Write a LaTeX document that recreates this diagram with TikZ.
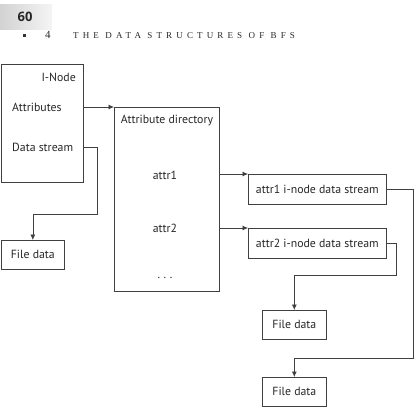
\documentclass[tikz,border=0pt]{standalone}
\usepackage{fontspec}
\setmainfont{Liberation Serif}
\newfontfamily\boxfont{PT Sans}
\newfontfamily\headsans{Open Sans}
\usetikzlibrary{arrows.meta}
\definecolor{linec}{gray}{0.25}
\definecolor{txt}{gray}{0.15}
\begin{document}
\begin{tikzpicture}[x=1pt,y=-1pt,
  box/.style={draw=linec, line width=0.7pt, rectangle, inner sep=0pt, text=txt,
    font=\boxfont\fontsize{11.8}{13}\selectfont},
  lbl/.style={inner sep=0pt, text=txt, font=\boxfont\fontsize{11.8}{13}\selectfont},
  arr/.style={draw=linec, line width=0.7pt, -{Latex[length=5.5pt,width=5pt]}}]
\useasboundingbox (0,0) rectangle (417,407);
% header
\node[anchor=north west, minimum width=52pt, minimum height=25pt, inner sep=0pt,
  left color=gray!35, right color=gray!8, draw=none] (pg) at (0,4) {};
\node[inner sep=0pt, font=\headsans\bfseries\fontsize{13}{14}\selectfont, text=black!85] (pgnum) at (25,17) {60};
\node[fill=black!80, minimum size=3pt, inner sep=0pt] (sq) at (24.5,35) {};
\node[anchor=base west, inner sep=0pt, font=\fontsize{11}{12}\selectfont, text=txt] (chap) at (45,38) {4};
\node[anchor=base west, inner sep=0pt, text=txt] (title) at (73,38)
  {\addfontfeatures{LetterSpace=46}\fontsize{9}{10}\selectfont THE DATA STRUCTURES OF BFS};
% I-node
\node[box, minimum width=82pt, minimum height=118pt, anchor=north west] (inode) at (1,64) {};
\node[lbl, anchor=east] (inlbl) at (76,77) {I-Node};
\node[lbl, anchor=west] (attrs) at (12,107) {Attributes};
\node[lbl, anchor=west] (ds) at (12,147) {Data stream};
% directory
\node[box, minimum width=105pt, minimum height=184pt, anchor=north west] (dir) at (114,107) {};
\node[lbl] (dirlbl) at (167,121) {Attribute directory};
\node[lbl] (at1) at (165,175) {attr1};
\node[lbl] (at2) at (165,228) {attr2};
\node[lbl] (dots) at (165,278) {.\hspace{3.5pt}.\hspace{3.5pt}.};
% streams
\node[box, minimum width=138pt, minimum height=30pt, anchor=north west] (a1box) at (248,174) {attr1 i-node data stream};
\node[box, minimum width=138pt, minimum height=30pt, anchor=north west] (a2box) at (248,228) {attr2 i-node data stream};
% file data
\node[box, minimum width=63pt, minimum height=29pt, anchor=north west] (fd1) at (1,240) {File data};
\node[box, minimum width=64pt, minimum height=29pt, anchor=north west] (fd2) at (262,310) {File data};
\node[box, minimum width=64pt, minimum height=29pt, anchor=north west] (fd3) at (262,377) {File data};
% bends
\coordinate (b1) at (97,214);
\coordinate (b2) at (396,275);
\coordinate (b3) at (413,358);
% connectors
\draw[arr] (inode.east |- dir.north) -- (dir.north west);
\draw[arr] (inode.east |- ds) -| (b1) -| (fd1.north);
\draw[arr] (dir.east |- a1box.north) -- (a1box.north west);
\draw[arr] (dir.east |- a2box.north) -- (a2box.north west);
\draw[arr] (a1box.east) -| (b3) -| (fd3.north);
\draw[arr] (a2box.east) -| (b2) -| (fd2.north);
\end{tikzpicture}
\end{document}
